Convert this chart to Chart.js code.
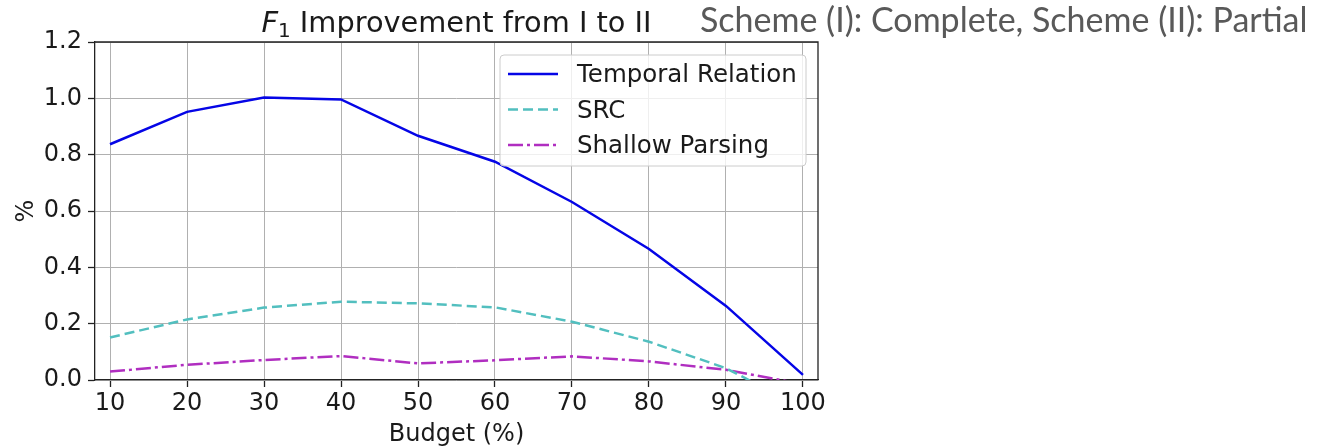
<!DOCTYPE html>
<html lang="en">

<head>
    <meta charset="UTF-8">
    <style>
        body { margin: 0; background: #fff; }
        #wrap { position: relative; width: 1334px; height: 447px; }
        #note {
            position: absolute; left: 700px; top: 2px;
            font-family: Lato, sans-serif; font-size: 34px; line-height: 1;
            color: #595959; white-space: nowrap;
        }
    </style>
</head>

<body>
    <div id="wrap">
        <canvas id="myChart" width="1334" height="447"></canvas>
        <div id="note">Scheme (I): Complete, Scheme (II): Partial</div>
    </div>

    <script src="https://cdn.jsdelivr.net/npm/chart.js"></script>

    <script>
        const budget = [10, 20, 30, 40, 50, 60, 70, 80, 90, 100];
        const temporal = [0.837, 0.952, 1.003, 0.996, 0.867, 0.775, 0.632, 0.465, 0.263, 0.018];
        const src = [0.151, 0.215, 0.257, 0.278, 0.272, 0.258, 0.207, 0.136, 0.042, -0.10];
        const shallow = [0.030, 0.054, 0.071, 0.085, 0.059, 0.070, 0.084, 0.066, 0.036, -0.015];
        const yTicks = [0.0, 0.2, 0.4, 0.6, 0.8, 1.0, 1.2];
        const names = ['Temporal Relation', 'SRC', 'Shallow Parsing'];
        const colors = ['#0505e6', '#52bfbf', '#b02ec0'];
        const dashes = [[], [10, 5], [15, 4, 3, 4]];

        const FONT = '"DejaVu Sans", sans-serif';
        const ctx = document.getElementById('myChart');

        const toPoints = (ys) => budget.map((x, i) => ({ x: x, y: ys[i] }));

        const frame = {
            id: 'frame',
            afterDatasetsDraw(chart) {
                const c = chart.ctx, a = chart.chartArea;
                c.save();
                // top and right spines
                c.strokeStyle = '#222';
                c.lineWidth = 1.3;
                c.beginPath();
                c.moveTo(a.left, a.top);
                c.lineTo(a.right, a.top);
                c.lineTo(a.right, a.bottom);
                c.stroke();

                // legend inside the plot
                const bx = a.right - 318, by = a.top + 13, bw = 306, bh = 111;
                c.beginPath();
                c.roundRect(bx, by, bw, bh, 4);
                c.fillStyle = 'rgba(255,255,255,0.8)';
                c.fill();
                c.strokeStyle = '#cccccc';
                c.lineWidth = 1;
                c.stroke();
                c.font = '24.5px ' + FONT;
                c.textBaseline = 'middle';
                c.textAlign = 'left';
                names.forEach((n, i) => {
                    const y = by + 19 + i * 35.5;
                    c.strokeStyle = colors[i];
                    c.lineWidth = 2.5;
                    c.setLineDash(dashes[i]);
                    c.beginPath();
                    c.moveTo(bx + 8, y);
                    c.lineTo(bx + 58, y);
                    c.stroke();
                    c.setLineDash([]);
                    c.fillStyle = '#1a1a1a';
                    c.fillText(n, bx + 77, y + 2);
                });

                // title with italic F and subscript 1
                const base = 32;
                const parts = [
                    ['italic 28.8px ' + FONT, 'F', 0],
                    ['20px ' + FONT, '1', 5],
                    ['28.8px ' + FONT, ' Improvement from I to II', 0]
                ];
                let total = 0;
                parts.forEach(p => { c.font = p[0]; p.push(c.measureText(p[1]).width); total += p[3]; });
                let x = (a.left + a.right) / 2 - total / 2;
                c.fillStyle = '#1a1a1a';
                c.textBaseline = 'alphabetic';
                parts.forEach(p => {
                    c.font = p[0];
                    c.fillText(p[1], x, base + p[2]);
                    x += p[3];
                });
                c.restore();
            }
        };

        const zeroPad = (s) => { s.paddingLeft = 0; s.paddingRight = 0; s.paddingTop = 0; s.paddingBottom = 0; };

        window.myChart = new Chart(ctx, {
            type: 'line',
            data: {
                datasets: names.map((n, i) => ({
                    label: n,
                    data: toPoints([temporal, src, shallow][i]),
                    borderColor: colors[i],
                    borderWidth: 2.5,
                    borderDash: dashes[i],
                    pointRadius: 0,
                    tension: 0,
                    fill: false,
                    clip: 0
                }))
            },
            options: {
                responsive: false,
                animation: false,
                layout: { padding: { top: 42, right: 516, left: 0, bottom: 0 } },
                plugins: { legend: { display: false }, title: { display: false }, tooltip: { enabled: false } },
                scales: {
                    x: {
                        type: 'linear',
                        min: 8.05,
                        max: 101.95,
                        afterBuildTicks: (s) => { s.ticks = budget.map(v => ({ value: v })); },
                        afterFit: (s) => { s.height = 67; zeroPad(s); },
                        grid: { color: '#b0b0b0', lineWidth: 1, tickColor: '#222', tickLength: 7, tickWidth: 1.3 },
                        border: { color: '#222', width: 1.3 },
                        ticks: { font: { family: FONT, size: 24 }, color: '#1a1a1a', padding: 2, maxRotation: 0, callback: v => String(v) },
                        title: { display: true, text: 'Budget (%)', font: { family: FONT, size: 24, lineHeight: 1 }, color: '#1a1a1a', padding: { top: 0, bottom: 0 } }
                    },
                    y: {
                        min: 0,
                        max: 1.2,
                        afterBuildTicks: (s) => { s.ticks = yTicks.map(v => ({ value: v })); },
                        afterFit: (s) => { s.width = 95; zeroPad(s); },
                        grid: { color: '#b0b0b0', lineWidth: 1, tickColor: '#222', tickLength: 7, tickWidth: 1.3 },
                        border: { color: '#222', width: 1.3 },
                        ticks: { font: { family: FONT, size: 24 }, color: '#1a1a1a', padding: 6, callback: v => v.toFixed(1) },
                        title: { display: true, text: '%', font: { family: FONT, size: 24 }, color: '#1a1a1a', padding: { top: 12, bottom: 0 } }
                    }
                }
            },
            plugins: [frame]
        });
    </script>
</body>

</html>
